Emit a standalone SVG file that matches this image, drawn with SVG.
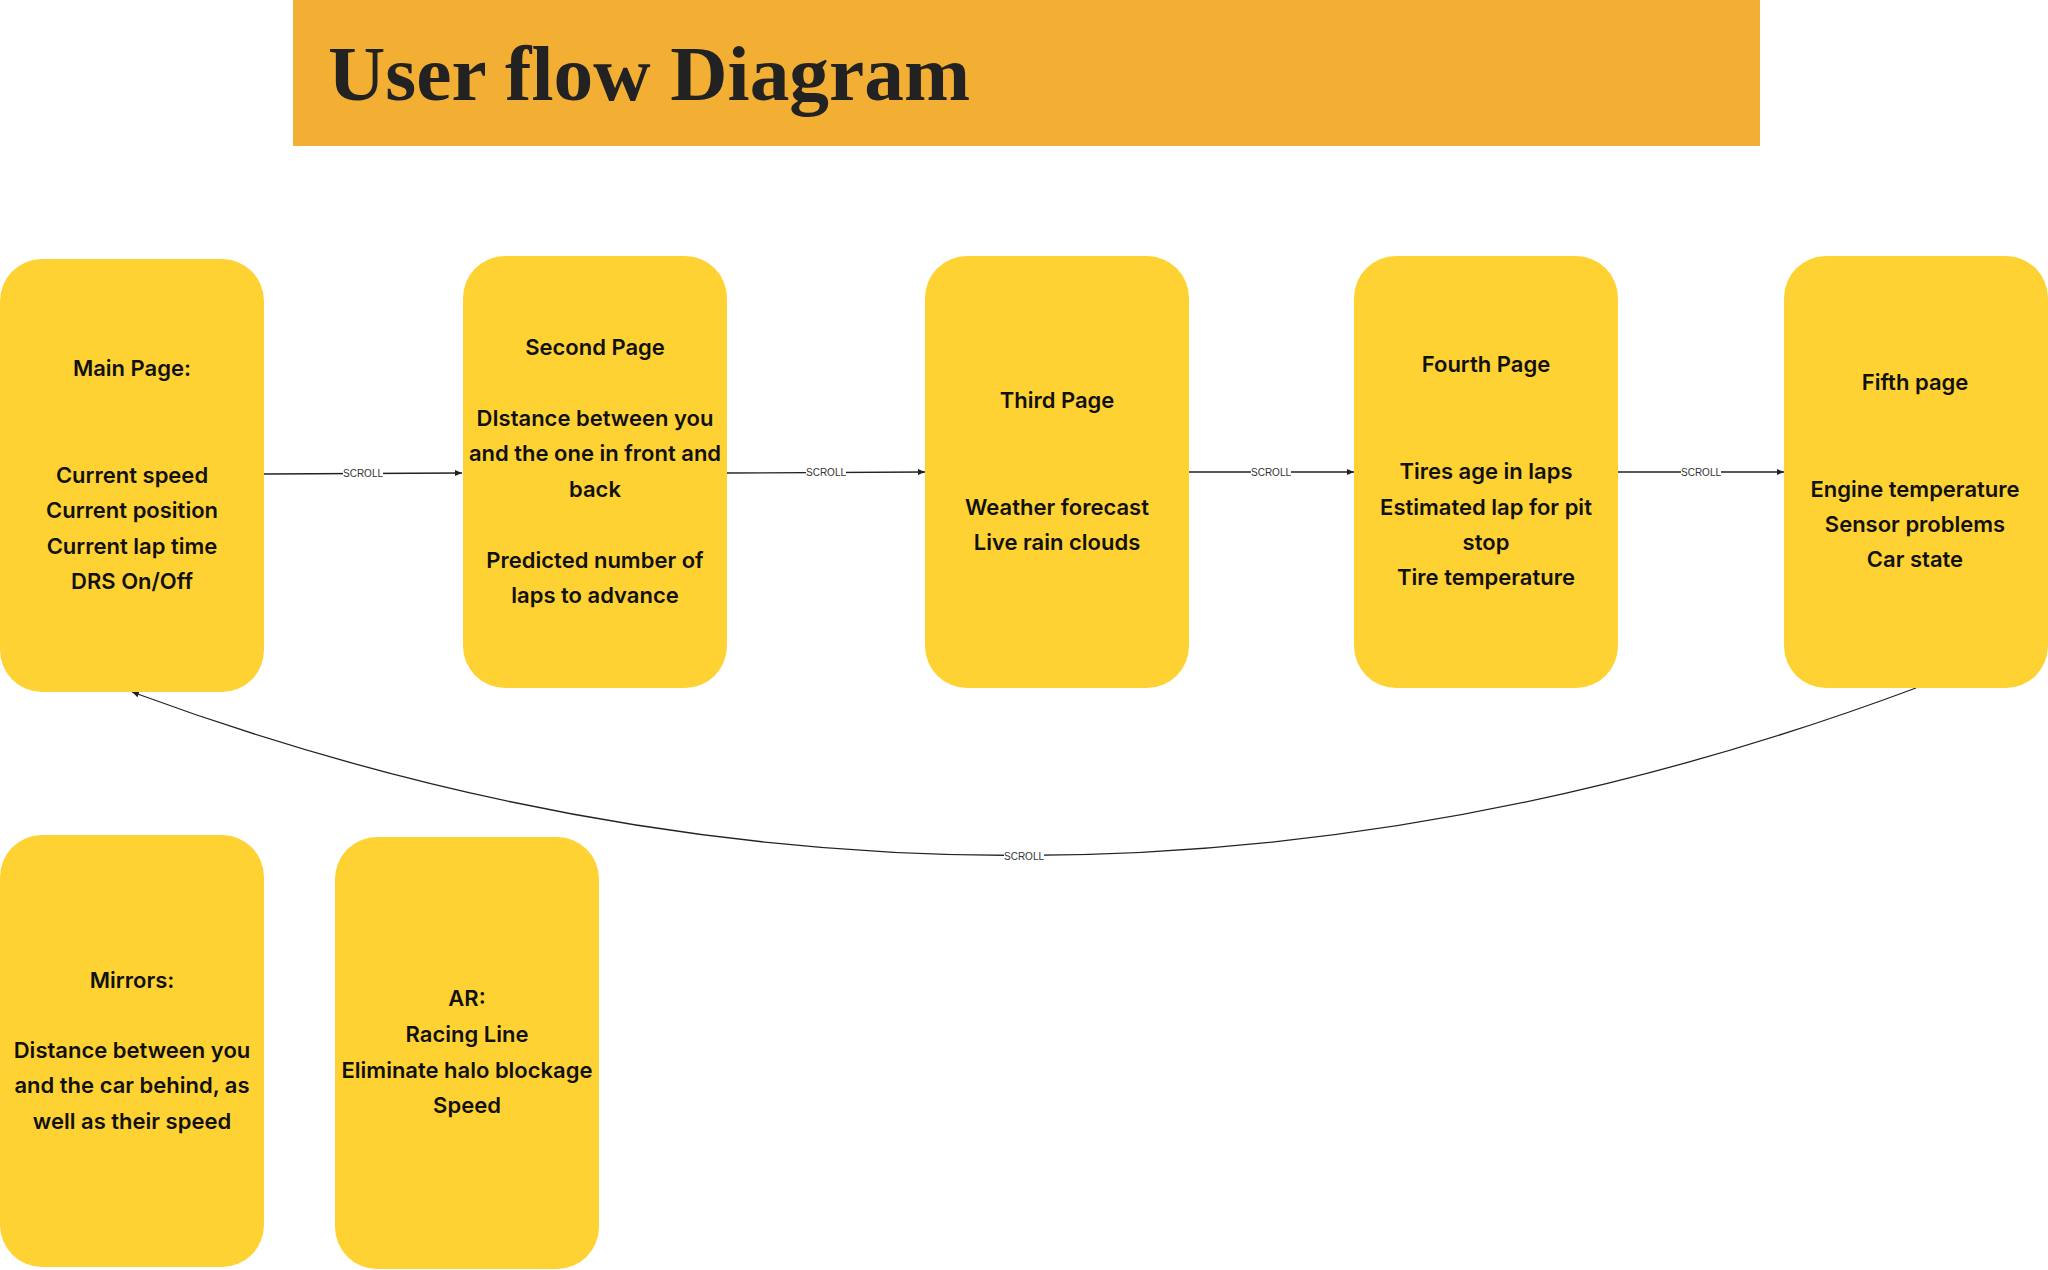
<svg xmlns="http://www.w3.org/2000/svg" width="2048" height="1270" viewBox="0 0 2048 1270">
  <defs>
    <style>
      .node { fill: #FFD233; }
      .t { font-family: Inter, "Noto Sans", "Liberation Sans", sans-serif; font-weight: 600; font-size: 22px; fill: #111111; text-anchor: middle; }
      .edge { fill: none; stroke: #222222; stroke-width: 1.3; }
      .lbl-bg { fill: #ffffff; }
      .lbl { font-family: "Liberation Sans", Arial, sans-serif; font-size: 10px; fill: #333333; text-anchor: middle; }
      .title { font-family: "Liberation Serif", "Times New Roman", serif; font-weight: bold; font-size: 79px; fill: #222222; }
    </style>
    <marker id="arrow" markerUnits="userSpaceOnUse" markerWidth="8" markerHeight="8" refX="7" refY="3" orient="auto">
      <path d="M0,0 L7,3 L0,6 z" fill="#222222"/>
    </marker>
  </defs>
  <rect width="2048" height="1270" fill="#ffffff"/>

  <g id="title">
    <rect x="293" y="0" width="1467" height="146" fill="#F3AE34"/>
    <text class="title" x="328" y="100" textLength="642" lengthAdjust="spacingAndGlyphs">User flow Diagram</text>
  </g>

  <g id="connectors">
    <path class="edge" d="M264,474 L462,473" marker-end="url(#arrow)"/>
    <rect class="lbl-bg" x="343" y="467" width="40" height="12"/>
    <text class="lbl" x="363" y="477">SCROLL</text>

    <path class="edge" d="M727,473 L925,472" marker-end="url(#arrow)"/>
    <rect class="lbl-bg" x="806" y="466" width="40" height="12"/>
    <text class="lbl" x="826" y="476">SCROLL</text>

    <path class="edge" d="M1189,472 L1354,472" marker-end="url(#arrow)"/>
    <rect class="lbl-bg" x="1251" y="466" width="40" height="12"/>
    <text class="lbl" x="1271" y="476">SCROLL</text>

    <path class="edge" d="M1618,472 L1784,472" marker-end="url(#arrow)"/>
    <rect class="lbl-bg" x="1681" y="466" width="40" height="12"/>
    <text class="lbl" x="1701" y="476">SCROLL</text>

    <path class="edge" d="M1916,688 Q1024,1021 132,692" marker-end="url(#arrow)"/>
    <rect class="lbl-bg" x="1004" y="850" width="40" height="12"/>
    <text class="lbl" x="1024" y="860">SCROLL</text>
  </g>

  <g id="main-page">
    <rect class="node" x="0" y="259" width="264" height="433" rx="42"/>
    <text class="t" x="132" y="376">Main Page:</text>
    <text class="t" x="132" y="483">Current speed</text>
    <text class="t" x="132" y="518">Current position</text>
    <text class="t" x="132" y="554">Current lap time</text>
    <text class="t" x="132" y="589">DRS On/Off</text>
  </g>

  <g id="second-page">
    <rect class="node" x="463" y="256" width="264" height="432" rx="42"/>
    <text class="t" x="595" y="355">Second Page</text>
    <text class="t" x="595" y="426">DIstance between you</text>
    <text class="t" x="595" y="461">and the one in front and</text>
    <text class="t" x="595" y="497">back</text>
    <text class="t" x="595" y="568">Predicted number of</text>
    <text class="t" x="595" y="603">laps to advance</text>
  </g>

  <g id="third-page">
    <rect class="node" x="925" y="256" width="264" height="432" rx="42"/>
    <text class="t" x="1057" y="408">Third Page</text>
    <text class="t" x="1057" y="515">Weather forecast</text>
    <text class="t" x="1057" y="550">Live rain clouds</text>
  </g>

  <g id="fourth-page">
    <rect class="node" x="1354" y="256" width="264" height="432" rx="42"/>
    <text class="t" x="1486" y="372">Fourth Page</text>
    <text class="t" x="1486" y="479">Tires age in laps</text>
    <text class="t" x="1486" y="515">Estimated lap for pit</text>
    <text class="t" x="1486" y="550">stop</text>
    <text class="t" x="1486" y="585">Tire temperature</text>
  </g>

  <g id="fifth-page">
    <rect class="node" x="1784" y="256" width="264" height="432" rx="42"/>
    <text class="t" x="1915" y="390">Fifth page</text>
    <text class="t" x="1915" y="497">Engine temperature</text>
    <text class="t" x="1915" y="532">Sensor problems</text>
    <text class="t" x="1915" y="567">Car state</text>
  </g>

  <g id="mirrors">
    <rect class="node" x="0" y="835" width="264" height="432" rx="42"/>
    <text class="t" x="132" y="988">Mirrors:</text>
    <text class="t" x="132" y="1058">Distance between you</text>
    <text class="t" x="132" y="1093">and the car behind, as</text>
    <text class="t" x="132" y="1129">well as their speed</text>
  </g>

  <g id="ar">
    <rect class="node" x="335" y="837" width="264" height="432" rx="42"/>
    <text class="t" x="467" y="1006">AR:</text>
    <text class="t" x="467" y="1042">Racing Line</text>
    <text class="t" x="467" y="1078">Eliminate halo blockage</text>
    <text class="t" x="467" y="1113">Speed</text>
  </g>
</svg>
